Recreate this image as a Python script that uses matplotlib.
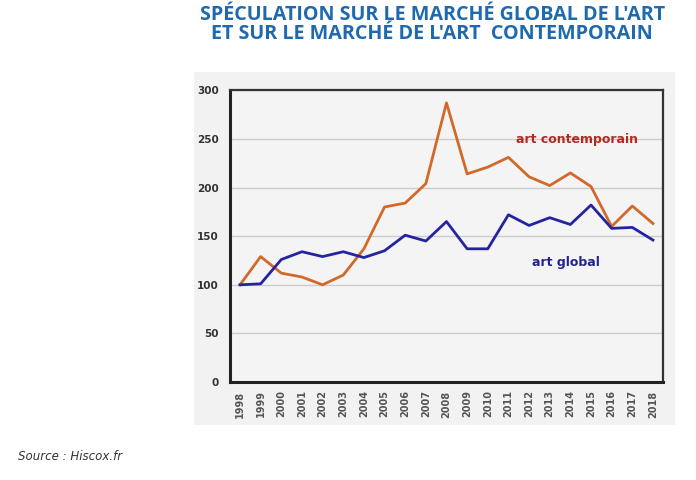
import matplotlib.pyplot as plt
from matplotlib.patches import Rectangle

years = [str(y) for y in range(1998, 2019)]
art_contemporain = [100, 129, 112, 108, 100, 110, 137, 180, 184, 204, 287,
                    214, 221, 231, 211, 202, 215, 201, 160, 181, 163]
art_global = [100, 101, 126, 134, 129, 134, 128, 135, 151, 145, 165,
              137, 137, 172, 161, 169, 162, 182, 158, 159, 146]

fig = plt.figure(figsize=(6.96, 4.8), dpi=100)
fig.patch.set_facecolor('white')

# grey panel behind the chart (pasted image look)
fig.add_artist(Rectangle((0.279, 0.115), 0.691, 0.735, transform=fig.transFigure,
                         facecolor='#f2f2f2', edgecolor='none', zorder=0))

ax = fig.add_axes([0.330, 0.204, 0.623, 0.608])
ax.set_zorder(2)
ax.set_facecolor('#f4f4f4')
x = range(len(years))
ax.plot(x, art_contemporain, color='#d2692a', lw=2)
ax.plot(x, art_global, color='#2424a0', lw=2)

ax.set_xlim(-0.5, len(years) - 0.5)
ax.set_ylim(0, 300)
ax.set_yticks(range(0, 301, 50))
ax.set_xticks(list(x))
ax.set_xticklabels(years, rotation=90, fontsize=7, fontweight='bold', color='#555555')
ax.tick_params(axis='y', labelsize=7.5, labelcolor='#333333', length=0, pad=8)
for lbl in ax.get_yticklabels():
    lbl.set_fontweight('bold')
ax.tick_params(axis='x', length=0, pad=6)
ax.grid(axis='y', color='#cccccc', lw=1)
ax.set_axisbelow(True)
for side in ['left', 'bottom']:
    ax.spines[side].set_linewidth(2.2)
    ax.spines[side].set_color('#222222')
for side in ['top', 'right']:
    ax.spines[side].set_linewidth(1.6)
    ax.spines[side].set_color('#333333')

ax.text(16.3, 249, 'art contemporain', color='#b22a22', fontsize=9, fontweight='bold',
        ha='center', va='center')
ax.text(15.8, 123, 'art global', color='#23238f', fontsize=9, fontweight='bold',
        ha='center', va='center')

fig.text(0.621, 0.99, "SPÉCULATION SUR LE MARCHÉ GLOBAL DE L'ART\nET SUR LE MARCHÉ DE L'ART  CONTEMPORAIN",
         ha='center', va='top', fontsize=14.2, fontweight='bold', color='#1f6aae',
         family='Open Sans', linespacing=0.97)
fig.text(0.026, 0.05, 'Source : Hiscox.fr', fontsize=8.5, style='italic', color='#333333',
         ha='left', va='center')

fig.savefig('out.png', dpi=100)
